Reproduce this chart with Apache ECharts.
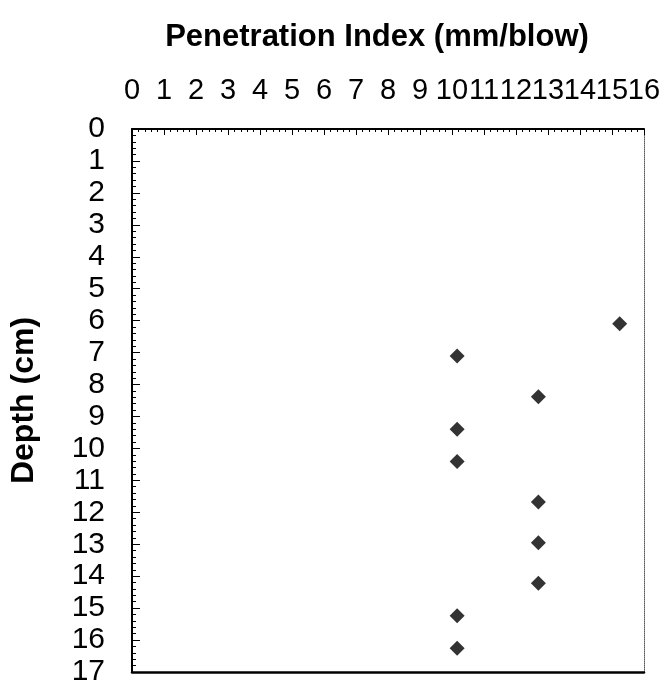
<!DOCTYPE html>
<html>
<head>
<meta charset="utf-8">
<script src="https://cdn.jsdelivr.net/npm/echarts@6/dist/echarts.min.js"></script>
<style>html,body{margin:0;padding:0;background:#fff}#c{width:667px;height:687px}</style>
</head>
<body>
<div id="c"></div>
<script>
var penetration = [15.24, 10.16, 12.7, 10.16, 10.16, 12.7, 12.7, 12.7, 10.16, 10.16];
var depth = [6.10, 7.11, 8.38, 9.40, 10.41, 11.68, 12.95, 14.22, 15.24, 16.26];
var xTicks = [0, 1, 2, 3, 4, 5, 6, 7, 8, 9, 10, 11, 12, 13, 14, 15, 16];
var yTicks = [0, 1, 2, 3, 4, 5, 6, 7, 8, 9, 10, 11, 12, 13, 14, 15, 16, 17];
var xTitle = 'Penetration Index (mm/blow)';
var yTitle = 'Depth (cm)';

var pts = penetration.map(function (v, i) { return [v, depth[i]]; });
var font = '"Liberation Sans", Arial, sans-serif';
var xMin = xTicks[0], xMax = xTicks[xTicks.length - 1];
var yMin = yTicks[0], yMax = yTicks[yTicks.length - 1];
var xEven = xTicks.filter(function (v, i) { return i % 2 === 0; });
var xOdd = xTicks.filter(function (v, i) { return i % 2 === 1; });
var xLabelStyle = { fontFamily: font, fontSize: 29, color: '#000', margin: 24,
  showMinLabel: true, showMaxLabel: true, hideOverlap: false };
var chart = echarts.init(document.getElementById('c'));
chart.setOption({
  animation: false,
  backgroundColor: '#fff',
  title: {
    text: xTitle, left: 372, top: 17, textAlign: 'center',
    textStyle: { fontFamily: font, fontSize: 31, fontWeight: 'bold', color: '#000' }
  },
  grid: { left: 126, right: 23, top: 129, bottom: 10, show: false },
  xAxis: [{
    type: 'value', position: 'top', min: xMin, max: xMax, interval: 1,
    axisLine: { show: true, onZero: false, lineStyle: { color: '#000', width: 2 } },
    axisTick: { show: true, inside: true, length: 6, lineStyle: { color: '#000' } },
    minorTick: { show: true, splitNumber: 5, length: 3, lineStyle: { color: '#000' } },
    splitLine: { show: false },
    axisLabel: Object.assign({ customValues: xEven }, xLabelStyle)
  }, {
    type: 'value', position: 'top', min: xMin, max: xMax, interval: 1,
    axisLine: { show: false, onZero: false }, axisTick: { show: false }, splitLine: { show: false },
    axisLabel: Object.assign({ customValues: xOdd }, xLabelStyle)
  }, {
    type: 'value', position: 'bottom', min: xMin, max: xMax, interval: 1,
    axisLine: { show: true, onZero: false, lineStyle: { color: '#000', width: 2.5 } },
    axisTick: { show: false }, axisLabel: { show: false }, splitLine: { show: false }
  }],
  yAxis: [{
    type: 'value', inverse: true, min: yMin, max: yMax, interval: 1,
    name: yTitle, nameLocation: 'middle', nameGap: 92, nameRotate: 90,
    nameTextStyle: { fontFamily: font, fontSize: 32, fontWeight: 'bold', color: '#000' },
    axisLine: { show: true, onZero: false, lineStyle: { color: '#000', width: 2 } },
    axisTick: { show: true, inside: true, length: 8, lineStyle: { color: '#000' } },
    minorTick: { show: true, splitNumber: 5, length: 4, lineStyle: { color: '#000' } },
    splitLine: { show: false },
    axisLabel: { fontFamily: font, fontSize: 30, color: '#000', margin: 27, padding: [0, 0, 10, 0],
      customValues: yTicks, showMinLabel: true, showMaxLabel: true, hideOverlap: false }
  }, {
    type: 'value', position: 'right', inverse: true, min: yMin, max: yMax, interval: 1,
    axisLine: { show: true, onZero: false, lineStyle: { color: '#555', width: 1, type: 'dotted' } },
    axisTick: { show: false }, axisLabel: { show: false }, splitLine: { show: false }
  }],
  series: [{
    type: 'scatter', data: pts, symbol: 'diamond', symbolSize: 15,
    itemStyle: { color: '#000' }
  }]
});
</script>
</body>
</html>
